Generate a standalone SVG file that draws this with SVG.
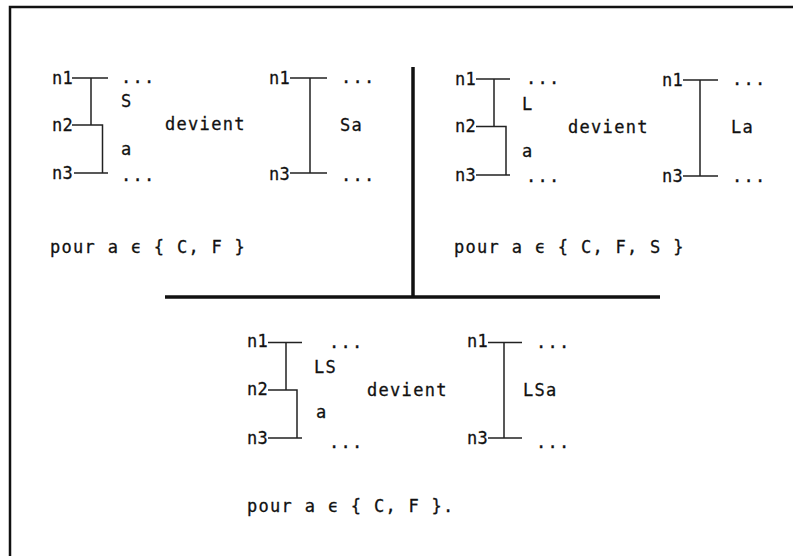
<svg xmlns="http://www.w3.org/2000/svg" width="793" height="556" viewBox="0 0 793 556">
<style>
text{font-family:"DejaVu Sans Mono","Liberation Mono",monospace;font-size:17px;letter-spacing:1.3px;fill:#111;stroke:#111;stroke-width:0.3}
text.n{letter-spacing:0.3px}
.ln{stroke:#222;stroke-width:1.5;fill:none}
.thick{stroke:#111;stroke-width:3.5;fill:none}
.frame{stroke:#111;stroke-width:2.5;fill:none}
</style>
<rect width="793" height="556" fill="#fff"/>
<g id="frame">
<path class="frame" d="M10,556 V7 H793"/>
</g>
<g id="connectors">
<path class="thick" d="M413,67 V297"/>
<path class="thick" d="M165,297 H660"/>
</g>
<g id="p1-left">
<text class="n" x="52" y="84">n1</text>
<text class="n" x="52" y="131">n2</text>
<text class="n" x="52" y="179">n3</text>
<path class="ln" d="M72,78 H108 M91,78 V125 M72,125 H102.5 V173 M74,173 H108"/>
<text x="121" y="83">...</text>
<text x="121" y="107">S</text>
<text x="121" y="155">a</text>
<text x="121" y="181">...</text>
</g>
<g id="p1-verb"><text x="165" y="130">devient</text></g>
<g id="p1-right">
<text class="n" x="269" y="84">n1</text>
<text class="n" x="269" y="180">n3</text>
<path class="ln" d="M290,78 H327 M310,78 V173 M290,173 H327"/>
<text x="341" y="83">...</text>
<text x="340" y="131">Sa</text>
<text x="341" y="181">...</text>
</g>
<g id="p1-cond"><text x="50" y="253">pour a ϵ { C, F }</text></g>
<g id="p2-left">
<text class="n" x="455" y="85">n1</text>
<text class="n" x="455" y="132">n2</text>
<text class="n" x="455" y="181">n3</text>
<path class="ln" d="M476,79 H510 M494,79 V126.5 M476,126.5 H506 V175 M476,175 H510"/>
<text x="526" y="84">...</text>
<text x="522" y="110">L</text>
<text x="522" y="157">a</text>
<text x="526" y="182">...</text>
</g>
<g id="p2-verb"><text x="568" y="133">devient</text></g>
<g id="p2-right">
<text class="n" x="662" y="86">n1</text>
<text class="n" x="662" y="182">n3</text>
<path class="ln" d="M683,80 H718 M700,80 V176 M683,176 H718"/>
<text x="732" y="85">...</text>
<text x="731" y="133">La</text>
<text x="732" y="182">...</text>
</g>
<g id="p2-cond"><text x="454" y="253">pour a ϵ { C, F, S }</text></g>
<g id="p3-left">
<text class="n" x="247" y="347">n1</text>
<text class="n" x="247" y="395">n2</text>
<text class="n" x="247" y="444">n3</text>
<path class="ln" d="M268,342.5 H302 M286,342.5 V390 M268,390 H297 V438 M268,438 H302"/>
<text x="329" y="348">...</text>
<text x="314" y="373">LS</text>
<text x="316" y="418">a</text>
<text x="329" y="448">...</text>
</g>
<g id="p3-verb"><text x="367" y="396">devient</text></g>
<g id="p3-right">
<text class="n" x="467" y="347">n1</text>
<text class="n" x="467" y="444">n3</text>
<path class="ln" d="M488,342.5 H522 M504,342.5 V438 M488,438 H522"/>
<text x="536" y="348">...</text>
<text x="523" y="396">LSa</text>
<text x="536" y="448">...</text>
</g>
<g id="p3-cond"><text x="247" y="512">pour a ϵ { C, F }.</text></g>
</svg>
